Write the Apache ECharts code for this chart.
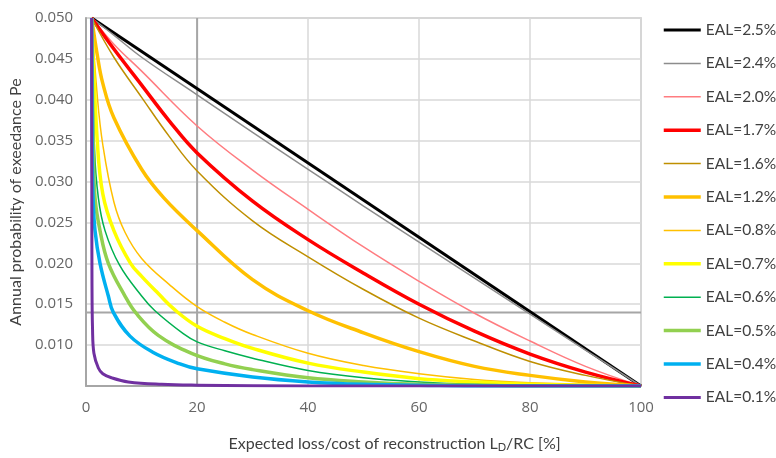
<!DOCTYPE html>
<html>
<head>
<meta charset="utf-8">
<script src="https://cdn.jsdelivr.net/npm/echarts@6/dist/echarts.min.js"></script>
<style>
  html, body { margin: 0; padding: 0; background: #fff; }
  #chart { width: 776px; height: 458px; }
</style>
</head>
<body>
<div id="chart"></div>
<script>
// Loss-exceedance curves: [loss ratio L_D/RC in %, annual probability of exceedance]
const seriesNames = ['EAL=2.5%', 'EAL=2.4%', 'EAL=2.0%', 'EAL=1.7%', 'EAL=1.6%', 'EAL=1.2%',
                     'EAL=0.8%', 'EAL=0.7%', 'EAL=0.6%', 'EAL=0.5%', 'EAL=0.4%', 'EAL=0.1%'];

const eal25 = [[1, 0.05], [100, 0.005]];
const eal24 = [[1, 0.05], [5, 0.0479], [10, 0.0452], [20, 0.0406], [30, 0.0360], [40, 0.0315],
               [50, 0.0270], [60, 0.0226], [70, 0.0182], [80, 0.0138], [90, 0.0094], [100, 0.005]];
const eal20 = [[1, 0.05], [5, 0.0468], [10, 0.0435], [20, 0.0368], [30, 0.0314], [40, 0.0266],
               [50, 0.0220], [60, 0.0178], [70, 0.0139], [80, 0.0105], [90, 0.0074], [100, 0.005]];
const eal17 = [[1, 0.05], [5, 0.0462], [10, 0.0418], [15, 0.0374], [20, 0.0335], [30, 0.0276],
               [40, 0.0229], [50, 0.0188], [60, 0.0150], [70, 0.0117], [80, 0.0089], [90, 0.0067], [100, 0.005]];
const eal16 = [[1, 0.05], [5, 0.0452], [10, 0.0403], [15, 0.0355], [20, 0.0313], [30, 0.0252],
               [40, 0.0208], [50, 0.0168], [60, 0.0133], [70, 0.0105], [80, 0.0080], [90, 0.0063], [100, 0.005]];
const eal12 = [[1, 0.05], [2, 0.0455], [3, 0.0420], [5, 0.0378], [10, 0.0315], [14, 0.0280],
               [20, 0.0240], [30, 0.0180], [40, 0.0142], [50, 0.0115], [60, 0.0092], [70, 0.0074],
               [80, 0.0063], [90, 0.0055], [100, 0.005]];
const eal08 = [[1, 0.05], [2, 0.0405], [3, 0.0345], [5, 0.0275], [7, 0.0238], [10, 0.0206],
               [15, 0.0174], [20, 0.0147], [25, 0.0128], [30, 0.0113], [40, 0.0090], [50, 0.0075],
               [60, 0.0065], [70, 0.0058], [80, 0.0054], [90, 0.0052], [100, 0.005]];
const eal07 = [[1, 0.05], [2, 0.0350], [3, 0.0285], [5, 0.0240], [8, 0.0200], [10, 0.0184],
               [13, 0.0163], [16, 0.0143], [20, 0.0123], [25, 0.0108], [30, 0.0096], [40, 0.0078],
               [50, 0.0067], [60, 0.0059], [70, 0.0055], [80, 0.0052], [90, 0.0051], [100, 0.005]];
const eal06 = [[1, 0.05], [1.5, 0.034], [2.2, 0.0280], [3.4, 0.0240], [6, 0.0198], [10, 0.0160],
               [12.4, 0.0142], [17.5, 0.0114], [20, 0.0104], [25, 0.0093], [30, 0.0084], [40, 0.0069],
               [50, 0.0060], [60, 0.0055], [70, 0.0052], [80, 0.0051], [90, 0.0050], [100, 0.005]];
const eal05 = [[1, 0.05], [1.3, 0.034], [1.6, 0.0280], [2.5, 0.0240], [4, 0.0200], [7, 0.0160],
               [9, 0.0139], [13, 0.0112], [19, 0.0090], [25, 0.0077], [30, 0.0070], [40, 0.0060],
               [50, 0.0055], [60, 0.0052], [70, 0.0051], [80, 0.0050], [100, 0.005]];
const eal04 = [[1, 0.05], [1.1, 0.034], [1.25, 0.0280], [1.6, 0.0240], [2.5, 0.0200], [4, 0.0160],
               [4.9, 0.0140], [7.9, 0.0111], [12.1, 0.0091], [16.9, 0.0077], [20, 0.0071], [30, 0.0061],
               [40, 0.0055], [50, 0.0052], [60, 0.0051], [70, 0.0050], [100, 0.005]];
const eal01 = [[1, 0.05], [1.02, 0.030], [1.05, 0.018], [1.15, 0.0120], [1.4, 0.0090], [2.2, 0.0072],
               [3, 0.0065], [4.6, 0.0060], [7.6, 0.0055], [13.6, 0.0052], [20, 0.0051], [40, 0.0050],
               [100, 0.005]];

const seriesData = [eal25, eal24, eal20, eal17, eal16, eal12, eal08, eal07, eal06, eal05, eal04, eal01];
const seriesColors = ['#000000', '#8c8c8c', '#ff7c80', '#ff0000', '#bf8f00', '#ffc000',
                      '#ffc000', '#ffff00', '#00b050', '#92d050', '#00b0f0', '#7030a0'];
const seriesWidths = [3, 1.5, 1.5, 3.5, 1.5, 3.5, 1.5, 3.5, 1.5, 3.5, 3.5, 3];

// Axis ranges and reference cross-hair
const xTicks = { min: 0, max: 100, interval: 20 };
const yTicks = { min: 0.005, max: 0.05, interval: 0.005 };
const refLoss = 20;       // vertical reference at L_D/RC = 20 %
const refProb = 0.014;    // horizontal reference at Pe = 0.014

const FONT = 'Lato';
const TICK_FONT = 'Open Sans';
const chart = echarts.init(document.getElementById('chart'), null, { renderer: 'canvas' });

const refStyle = { color: '#a6a6a6', width: 2 };
const refSeries = [
  { name: 'ref-loss', data: [[refLoss, yTicks.min], [refLoss, yTicks.max]] },
  { name: 'ref-prob', data: [[xTicks.min, refProb], [xTicks.max, refProb]] }
].map(r => ({
  name: r.name,
  type: 'line',
  data: r.data,
  symbol: 'none',
  silent: true,
  lineStyle: refStyle,
  itemStyle: { color: refStyle.color },
  z: 1
}));

const curveSeries = seriesNames.map((name, i) => ({
  name,
  type: 'line',
  data: seriesData[i],
  showSymbol: false,
  symbol: 'none',
  smooth: 0.4,
  lineStyle: { color: seriesColors[i], width: seriesWidths[i] },
  itemStyle: { color: seriesColors[i] },
  z: 3 + i
}));

chart.setOption({
  animation: false,
  backgroundColor: '#ffffff',
  textStyle: { fontFamily: FONT },
  grid: {
    left: 86, right: 135, top: 18, bottom: 67,
    show: true, borderColor: '#bfbfbf', borderWidth: 1.5, containLabel: false
  },
  legend: {
    orient: 'vertical',
    left: 662,
    top: 22,
    padding: 0,
    itemWidth: 37,
    itemHeight: 14,
    itemGap: 17.4,
    data: seriesNames,
    itemStyle: { opacity: 0 },
    lineStyle: { width: 'inherit' },
    textStyle: { fontFamily: FONT, fontSize: 15.5, color: '#404040' }
  },
  xAxis: {
    type: 'value',
    min: xTicks.min, max: xTicks.max, interval: xTicks.interval,
    name: '{a|Expected loss/cost of reconstruction L}{sub|D}{a|/RC [%]}',
    nameLocation: 'middle',
    nameGap: 48,
    nameTextStyle: {
      padding: [0, 0, 0, 62],
      rich: {
        a: { fontFamily: FONT, fontSize: 16, color: '#404040' },
        sub: { fontFamily: FONT, fontSize: 11, color: '#404040', verticalAlign: 'bottom', padding: [8, 0, 0, 0] }
      }
    },
    axisLine: { show: true, lineStyle: { color: '#a6a6a6', width: 2 } },
    axisTick: { show: false },
    axisLabel: { color: '#666666', fontSize: 15, margin: 14, fontFamily: TICK_FONT },
    splitLine: { show: true, lineStyle: { color: '#d9d9d9', width: 1.5 } }
  },
  yAxis: {
    type: 'value',
    min: yTicks.min, max: yTicks.max, interval: yTicks.interval,
    name: 'Annual probability of exeedance Pe',
    nameLocation: 'middle',
    nameGap: 58,
    nameTextStyle: { fontFamily: FONT, fontSize: 16, color: '#404040' },
    axisLine: { show: true, lineStyle: { color: '#a6a6a6', width: 2 } },
    axisTick: { show: false },
    axisLabel: {
      color: '#666666', fontSize: 15, margin: 13, fontFamily: TICK_FONT,
      showMinLabel: false,
      formatter: v => v.toFixed(3)
    },
    splitLine: { show: true, lineStyle: { color: '#d9d9d9', width: 1.5 } }
  },
  series: refSeries.concat(curveSeries)
});
</script>
</body>
</html>
